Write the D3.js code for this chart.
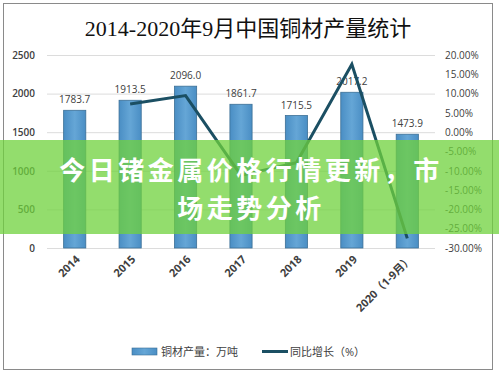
<!DOCTYPE html>
<html>
<head>
<meta charset="utf-8">
<script src="https://cdn.jsdelivr.net/npm/d3@7"></script>
<style>
  body { margin: 0; background: #fff; }
  svg { display: block; }
  text { font-family: "Open Sans", "Noto Sans CJK SC", sans-serif; }
</style>
</head>
<body>
<div id="chart"></div>
<script>
// chart data
const years = ['2014', '2015', '2016', '2017', '2018', '2019', '2020（1-9月）'];
const output = [1783.7, 1913.5, 2096.0, 1861.7, 1715.5, 2017.2, 1473.9];
const growth = [null, 7.3, 9.5, -11.2, -7.9, 17.6, -27.5];
const leftTicks = [0, 500, 1000, 1500, 2000, 2500];
const rightTicks = [20, 15, 10, 5, 0, -5, -10, -15, -20, -25, -30];

const W = 499, H = 377;
const plot = { left: 47, right: 435, top: 55, bottom: 248 };

const svg = d3.select('#chart').append('svg')
  .attr('width', W).attr('height', H);

svg.append('rect').attr('x', 3.5).attr('y', 3.5)
  .attr('width', 489).attr('height', 366)
  .attr('fill', '#fff').attr('stroke', '#8a8a8a').attr('stroke-width', 1);

svg.append('text')
  .attr('x', 248).attr('y', 36)
  .attr('text-anchor', 'middle')
  .style('font-family', '"Liberation Serif", "Noto Sans CJK SC", serif')
  .attr('font-size', '22px').attr('fill', '#111')
  .text('2014-2020年9月中国铜材产量统计');

const x = d3.scaleBand().domain(years).range([plot.left, plot.right]).paddingInner(0.6).paddingOuter(0.3);
const yL = d3.scaleLinear().domain([0, 2500]).range([plot.bottom, plot.top]);
const yR = d3.scaleLinear().domain([-30, 20]).range([plot.bottom, plot.top]);

// grid
svg.append('g').selectAll('line').data(leftTicks).join('line')
  .attr('x1', plot.left).attr('x2', plot.right)
  .attr('y1', d => yL(d) + 0.5).attr('y2', d => yL(d) + 0.5)
  .attr('stroke', '#dcdcdc').attr('stroke-width', 1);

// left axis
const axL = svg.append('g').attr('transform', `translate(${plot.left - 12},0)`)
  .call(d3.axisLeft(yL).tickValues(leftTicks).tickSize(0).tickPadding(0).tickFormat(d3.format('d')));
axL.select('.domain').remove();
axL.selectAll('text').attr('font-size', '10px').attr('font-weight', '600').attr('fill', '#404040')
  .style('font-family', '"Open Sans", sans-serif');

// right axis
const axR = svg.append('g').attr('transform', `translate(${plot.right + 10},0)`)
  .call(d3.axisRight(yR).tickValues(rightTicks).tickSize(0).tickPadding(0)
    .tickFormat(d => d.toFixed(2) + '%'));
axR.select('.domain').remove();
axR.selectAll('text').attr('font-size', '10px').attr('fill', '#404040')
  .style('font-family', '"Open Sans", sans-serif');

// bars
const grad = svg.append('defs').append('linearGradient').attr('id', 'barGrad')
  .attr('x1', 0).attr('x2', 1).attr('y1', 0).attr('y2', 0);
grad.append('stop').attr('offset', '0%').attr('stop-color', '#4a8ec4');
grad.append('stop').attr('offset', '50%').attr('stop-color', '#65a6d6');
grad.append('stop').attr('offset', '100%').attr('stop-color', '#4a8ec4');

svg.append('g').selectAll('rect').data(output).join('rect')
  .attr('x', (d, i) => x(years[i]))
  .attr('y', d => yL(d))
  .attr('width', x.bandwidth())
  .attr('height', d => plot.bottom - yL(d))
  .attr('fill', 'url(#barGrad)')
  .attr('stroke', '#3b6f96').attr('stroke-width', 0.8);

// bar labels
svg.append('g').selectAll('text').data(output).join('text')
  .attr('x', (d, i) => x(years[i]) + x.bandwidth() / 2)
  .attr('y', d => yL(d) - 7)
  .attr('text-anchor', 'middle')
  .attr('font-size', '10px').attr('fill', '#404040')
  .text(d => d.toFixed(1));

// growth line
const line = d3.line()
  .defined(d => d.v !== null)
  .x(d => x(d.k) + x.bandwidth() / 2)
  .y(d => yR(d.v));
svg.append('path')
  .datum(years.map((k, i) => ({ k, v: growth[i] })))
  .attr('d', line)
  .attr('fill', 'none').attr('stroke', '#1b4f63')
  .attr('stroke-width', 3).attr('stroke-linejoin', 'miter');

// x labels
svg.append('g').selectAll('text').data(years).join('text')
  .attr('transform', d => `translate(${x(d) + x.bandwidth() / 2 + 6},${plot.bottom + 12}) rotate(-45)`)
  .attr('text-anchor', 'end')
  .attr('font-size', '11px').attr('font-weight', 'bold').attr('fill', '#404040')
  .text(d => d);

// legend
const lg = svg.append('g');
lg.append('rect').attr('x', 132).attr('y', 348).attr('width', 25).attr('height', 7)
  .attr('fill', 'url(#barGrad)').attr('stroke', '#3b6f96').attr('stroke-width', 0.6);
lg.append('text').attr('x', 161).attr('y', 356).attr('font-size', '11px').attr('fill', '#404040')
  .text('铜材产量：万吨');
lg.append('line').attr('x1', 262).attr('x2', 288).attr('y1', 351.5).attr('y2', 351.5)
  .attr('stroke', '#1b4f63').attr('stroke-width', 3);
lg.append('text').attr('x', 290).attr('y', 356).attr('font-size', '11px').attr('fill', '#404040')
  .text('同比增长（%）');

// banner overlay
svg.append('rect').attr('x', 0).attr('y', 140).attr('width', W).attr('height', 94)
  .attr('fill', '#6fd13c').attr('opacity', 0.75);
const banner = ['今日锗金属价格行情更新，市', '场走势分析'];
svg.append('g').selectAll('text').data(banner).join('text')
  .attr('x', 251).attr('y', (d, i) => 180 + i * 38)
  .attr('text-anchor', 'middle')
  .style('font-family', '"Noto Sans CJK SC", sans-serif')
  .style('letter-spacing', '3.5px')
  .attr('font-size', '26px').attr('font-weight', 'bold').attr('fill', '#fff')
  .text(d => d);
</script>
</body>
</html>
